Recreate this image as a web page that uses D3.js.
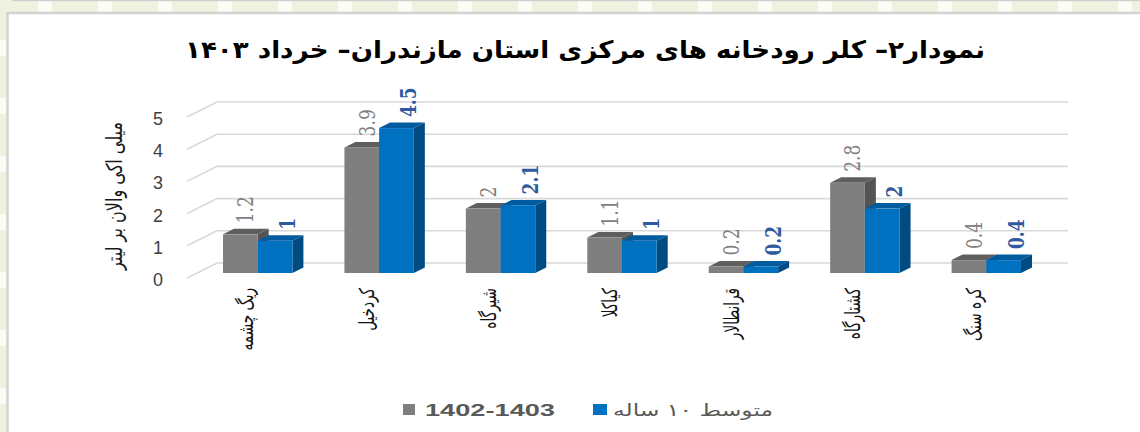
<!DOCTYPE html>
<html>
<head>
<meta charset="utf-8">
<script src="https://cdn.jsdelivr.net/npm/d3@7"></script>
<style>
  html, body { margin: 0; padding: 0; background: #fff; }
  svg { display: block; }
</style>
</head>
<body>
<div class="chart"></div>
<script>
const categories = ["ریگ چشمه", "کردخیل", "شیرگاه", "کیاکلا", "قرانطالار", "کشتارگاه", "کره سنگ"];
const seriesNames = ["1402-1403", "متوسط ۱۰ ساله"];
const current = [1.2, 3.9, 2, 1.1, 0.2, 2.8, 0.4];
const average = [1, 4.5, 2.1, 1, 0.2, 2, 0.4];
const yTicks = [0, 1, 2, 3, 4, 5];
const titleText = "نمودار۲– کلر رودخانه های مرکزی استان مازندران– خرداد ۱۴۰۳";
const yTitle = "میلی اکی والان بر لیتر";

const width = 1140;
const height = 432;
const faFont = "'DejaVu Sans', sans-serif";
const serifFont = "'DejaVu Serif', 'Liberation Serif', serif";

// 3d offsets: floor depth and bar depth
const depth = { dx: 30, dy: -15 };
const barShift = { dx: 10, dy: -5 };
const barDepth = { dx: 11, dy: -5.5 };

const colors = {
  front: ["#7f7f7f", "#0070c0"],
  top: ["#5f5f5f", "#005c9f"],
  side: ["#545454", "#004b82"],
  label: ["#808080", "#2f5aa0"]
};

const svg = d3.select(".chart")
  .append("svg")
  .attr("width", width)
  .attr("height", height);

// background strip
const bg = svg.append("g");
bg.append("rect").attr("width", width).attr("height", height).attr("fill", "#f0f2e0");
d3.range(0, 20).forEach(i => {
  bg.append("rect")
    .attr("x", i * 60 + 38).attr("y", 0)
    .attr("width", 14).attr("height", height)
    .attr("fill", "#fbfcf5");
});
d3.range(0, 8).forEach(i => {
  bg.append("rect")
    .attr("x", 0).attr("y", i * 58 + 40)
    .attr("width", 7).attr("height", 16)
    .attr("fill", "#fbfcf5");
});
bg.append("line")
  .attr("x1", 12).attr("x2", width).attr("y1", 0.5).attr("y2", 0.5)
  .attr("stroke", "#cfcfcf").attr("stroke-width", 1.5);

svg.append("rect")
  .attr("x", 7.5).attr("y", 13)
  .attr("width", width + 40).attr("height", height)
  .attr("fill", "#fff")
  .attr("stroke", "#d3d3d3")
  .attr("stroke-width", 2.5);

// scales (front plane)
const x = d3.scaleBand()
  .domain(categories)
  .range([187, 1037])
  .padding(0);

const xs = d3.scaleBand()
  .domain(seriesNames)
  .range([0, 69.4]);

// y on the back wall
const y = d3.scaleLinear()
  .domain([0, 5])
  .range([263, 102]);

// gridlines
const grid = svg.append("g");
yTicks.forEach(t => {
  grid.append("path")
    .attr("d", `M${x.range()[0]},${y(t) - depth.dy} L${x.range()[0] + depth.dx},${y(t)} L${x.range()[1] + depth.dx + 1},${y(t)}`)
    .attr("fill", "none")
    .attr("stroke", "#d9d9d9")
    .attr("stroke-width", 1.6);
});

// y tick labels
svg.append("g")
  .selectAll("text")
  .data(yTicks)
  .enter()
  .append("text")
  .attr("x", 163)
  .attr("y", d => y(d) - depth.dy + 2)
  .attr("text-anchor", "end")
  .attr("dominant-baseline", "central")
  .attr("font-family", "'Liberation Sans', Arial, sans-serif")
  .attr("font-size", 18)
  .attr("fill", "#404040")
  .text(d => d);

// y title
svg.append("text")
  .attr("transform", "translate(115, 196) rotate(-90) scale(1, 1.3)")
  .attr("direction", "rtl")
  .attr("text-anchor", "middle")
  .attr("dominant-baseline", "central")
  .attr("font-family", faFont)
  .attr("font-size", 17)
  .attr("fill", "#1a1a1a")
  .attr("textLength", 148)
  .attr("lengthAdjust", "spacingAndGlyphs")
  .text(yTitle);

// bars
const rows = categories.map((c, i) => ({ cat: c, values: [current[i], average[i]] }));
const bars = svg.append("g");

rows.forEach(r => {
  r.values.forEach((v, s) => {
    const x0 = x(r.cat) + x.bandwidth() / 2 - xs.range()[1] / 2 + xs(seriesNames[s]) + barShift.dx;
    const w = xs.bandwidth();
    const yb = y(0) - depth.dy + barShift.dy;
    const yt = y(v) - depth.dy + barShift.dy;
    const g = bars.append("g");
    // top
    g.append("path")
      .attr("d", `M${x0},${yt} L${x0 + barDepth.dx},${yt + barDepth.dy} L${x0 + w + barDepth.dx},${yt + barDepth.dy} L${x0 + w},${yt} Z`)
      .attr("fill", colors.top[s]);
    // side
    g.append("path")
      .attr("d", `M${x0 + w},${yt} L${x0 + w + barDepth.dx},${yt + barDepth.dy} L${x0 + w + barDepth.dx},${yb + barDepth.dy} L${x0 + w},${yb} Z`)
      .attr("fill", colors.side[s]);
    // front
    g.append("rect")
      .attr("x", x0).attr("y", yt)
      .attr("width", w).attr("height", yb - yt)
      .attr("fill", colors.front[s]);
  });
});

// value labels
rows.forEach(r => {
  r.values.forEach((v, s) => {
    const x0 = x(r.cat) + x.bandwidth() / 2 - xs.range()[1] / 2 + xs(seriesNames[s]) + barShift.dx;
    const cx = x0 + xs.bandwidth() / 2 + (s === 0 ? 5 : 12);
    const yt = y(v) - depth.dy + barShift.dy;
    svg.append("text")
      .attr("transform", `translate(${cx}, ${yt - 11}) rotate(-90) scale(0.95, 1.25)`)
      .attr("text-anchor", "start")
      .attr("dominant-baseline", "central")
      .attr("font-family", serifFont)
      .attr("font-size", 18)
      .attr("font-weight", s === 1 ? "bold" : "normal")
      .attr("fill", colors.label[s])
      .text(v);
  });
});

// category labels
svg.append("g")
  .selectAll("text")
  .data(categories)
  .enter()
  .append("text")
  .attr("transform", d => `translate(${x(d) + x.bandwidth() / 2 - 2}, 288) rotate(-90) scale(0.85, 1.3)`)
  .attr("direction", "rtl")
  .attr("text-anchor", "start")
  .attr("dominant-baseline", "central")
  .attr("font-family", faFont)
  .attr("font-size", 16)
  .attr("fill", "#111")
  .text(d => d);

// title
svg.append("text")
  .attr("x", 585)
  .attr("y", 58)
  .attr("direction", "rtl")
  .attr("text-anchor", "middle")
  .attr("font-family", faFont)
  .attr("font-size", 24)
  .attr("font-weight", "bold")
  .attr("fill", "#000")
  .attr("textLength", 800)
  .attr("lengthAdjust", "spacingAndGlyphs")
  .text(titleText);

// legend
const legend = svg.append("g");
legend.append("rect").attr("x", 403).attr("y", 404).attr("width", 12).attr("height", 11).attr("fill", colors.front[0]);
legend.append("text")
  .attr("x", 425).attr("y", 416)
  .attr("font-family", "'Liberation Sans', Arial, sans-serif")
  .attr("font-size", 17)
  .attr("font-weight", "bold")
  .attr("fill", "#595959")
  .attr("textLength", 130)
  .attr("lengthAdjust", "spacingAndGlyphs")
  .text(seriesNames[0]);
legend.append("rect").attr("x", 593).attr("y", 404).attr("width", 14).attr("height", 11).attr("fill", colors.front[1]);
legend.append("text")
  .attr("x", 693).attr("y", 416)
  .attr("direction", "rtl")
  .attr("text-anchor", "middle")
  .attr("font-family", faFont)
  .attr("font-size", 17)
  .attr("fill", "#595959")
  .attr("textLength", 160)
  .attr("lengthAdjust", "spacingAndGlyphs")
  .text(seriesNames[1]);
</script>
</body>
</html>
